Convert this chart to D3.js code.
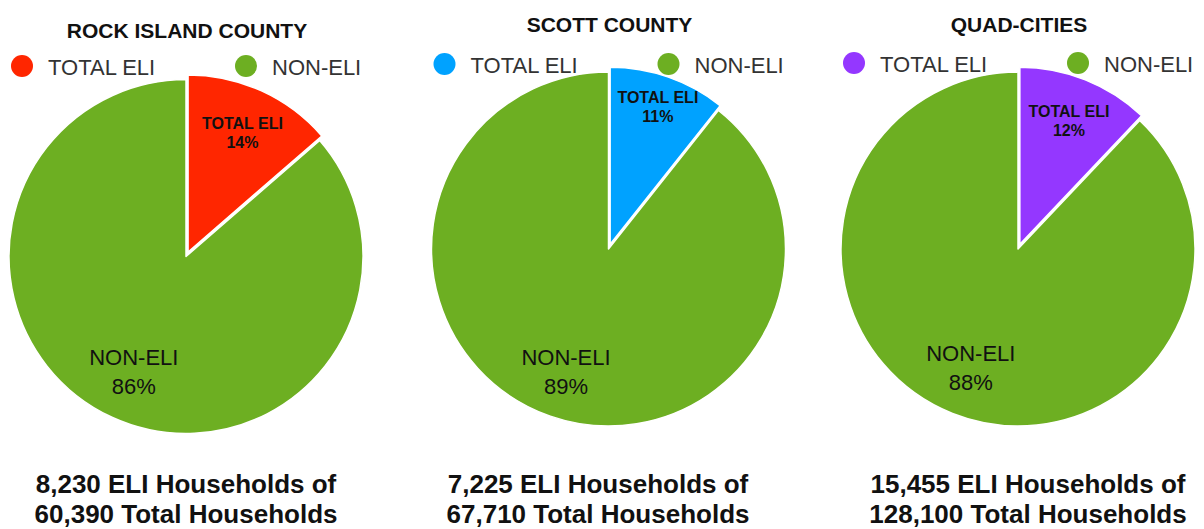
<!DOCTYPE html>
<html>
<head>
<meta charset="utf-8">
<script src="https://cdn.jsdelivr.net/npm/d3@7"></script>
<style>
  body { margin: 0; background: #fff; }
  svg { display: block; font-family: "Liberation Sans", Arial, Helvetica, sans-serif; }
</style>
</head>
<body>
<script>
// data
const regions = ["ROCK ISLAND COUNTY", "SCOTT COUNTY", "QUAD-CITIES"];
const categories = ["TOTAL ELI", "NON-ELI"];
const eliHouseholds = [8230, 7225, 15455];
const totalHouseholds = [60390, 67710, 128100];
const eliColors = ["#ff2600", "#00a2ff", "#9437ff"];
const nonEliColor = "#6daf22";

// layout per panel
const centers = [[186, 256.5], [608.5, 249], [1018, 249]];
const titleY = [38, 32, 32];
const legendY = [66, 64, 63];
const footX = [186, 598, 1028];
const eliLabelPos = [0.74, 0.82, 0.75];
const nonLabelPos = [0.71, 0.73, 0.72];

const width = 1204, height = 529;
const radius = 177;
const fmt = d3.format(",");

const svg = d3.select("body").append("svg")
    .attr("width", width)
    .attr("height", height);

const pie = d3.pie().sort(null).value(d => d.value);
const arc = d3.arc().innerRadius(0).outerRadius(radius);

regions.forEach((name, i) => {
    const [cx, cy] = centers[i];
    const data = [
        {key: categories[0], value: eliHouseholds[i], color: eliColors[i]},
        {key: categories[1], value: totalHouseholds[i] - eliHouseholds[i], color: nonEliColor}
    ];
    const total = totalHouseholds[i];
    const arcs = pie(data);

    const g = svg.append("g");

    // title
    g.append("text")
        .attr("x", cx + 1)
        .attr("y", titleY[i])
        .attr("text-anchor", "middle")
        .attr("font-size", 21)
        .attr("font-weight", "bold")
        .attr("fill", "#111")
        .text(name);

    // legend
    const legendX = [cx - 164, cx + 60];
    const lg = g.selectAll("g.legend")
        .data(data)
        .join("g")
        .attr("class", "legend")
        .attr("transform", (d, j) => `translate(${legendX[j]},${legendY[i]})`);
    lg.append("circle")
        .attr("r", 11)
        .attr("fill", d => d.color);
    lg.append("text")
        .attr("x", 26)
        .attr("y", 8.5)
        .attr("font-size", 22)
        .attr("fill", "#333")
        .text(d => d.key);

    // pie
    const pg = g.append("g").attr("transform", `translate(${cx},${cy})`);
    const slice = pg.selectAll("g.slice")
        .data(arcs)
        .join("g")
        .attr("class", "slice")
        .attr("transform", (d, j) => {
            if (j !== 0) return null;
            const mid = (d.startAngle + d.endAngle) / 2;
            return `translate(${Math.sin(mid) * 5},${-Math.cos(mid) * 5})`;
        });
    slice.append("path")
        .attr("d", arc)
        .attr("fill", d => d.data.color)
        .attr("stroke", "#fff")
        .attr("stroke-width", 1.5)
        .attr("stroke-linejoin", "round");

    // slice labels
    slice.each(function(d, j) {
        const lr = radius * (j === 0 ? eliLabelPos[i] : nonLabelPos[i]);
        const [lx, ly] = d3.arc().innerRadius(lr).outerRadius(lr).centroid(d);
        const pct = Math.round(d.data.value / total * 100) + "%";
        const t = d3.select(this).append("text")
            .attr("text-anchor", "middle")
            .attr("fill", "#111");
        if (j === 0) {
            t.attr("font-size", 16).attr("font-weight", "bold");
            t.append("tspan").attr("x", lx).attr("y", ly - 4).text(d.data.key);
            t.append("tspan").attr("x", lx).attr("y", ly + 15).text(pct);
        } else {
            t.attr("font-size", 22);
            t.append("tspan").attr("x", lx).attr("y", ly - 6).text(d.data.key);
            t.append("tspan").attr("x", lx).attr("y", ly + 23).text(pct);
        }
    });

    // footer
    const foot = g.append("text")
        .attr("text-anchor", "middle")
        .attr("font-size", 26)
        .attr("font-weight", "bold")
        .attr("fill", "#111");
    foot.append("tspan").attr("x", footX[i]).attr("y", 493)
        .text(`${fmt(eliHouseholds[i])} ELI Households of`);
    foot.append("tspan").attr("x", footX[i]).attr("y", 523)
        .text(`${fmt(totalHouseholds[i])} Total Households`);
});
</script>
</body>
</html>
